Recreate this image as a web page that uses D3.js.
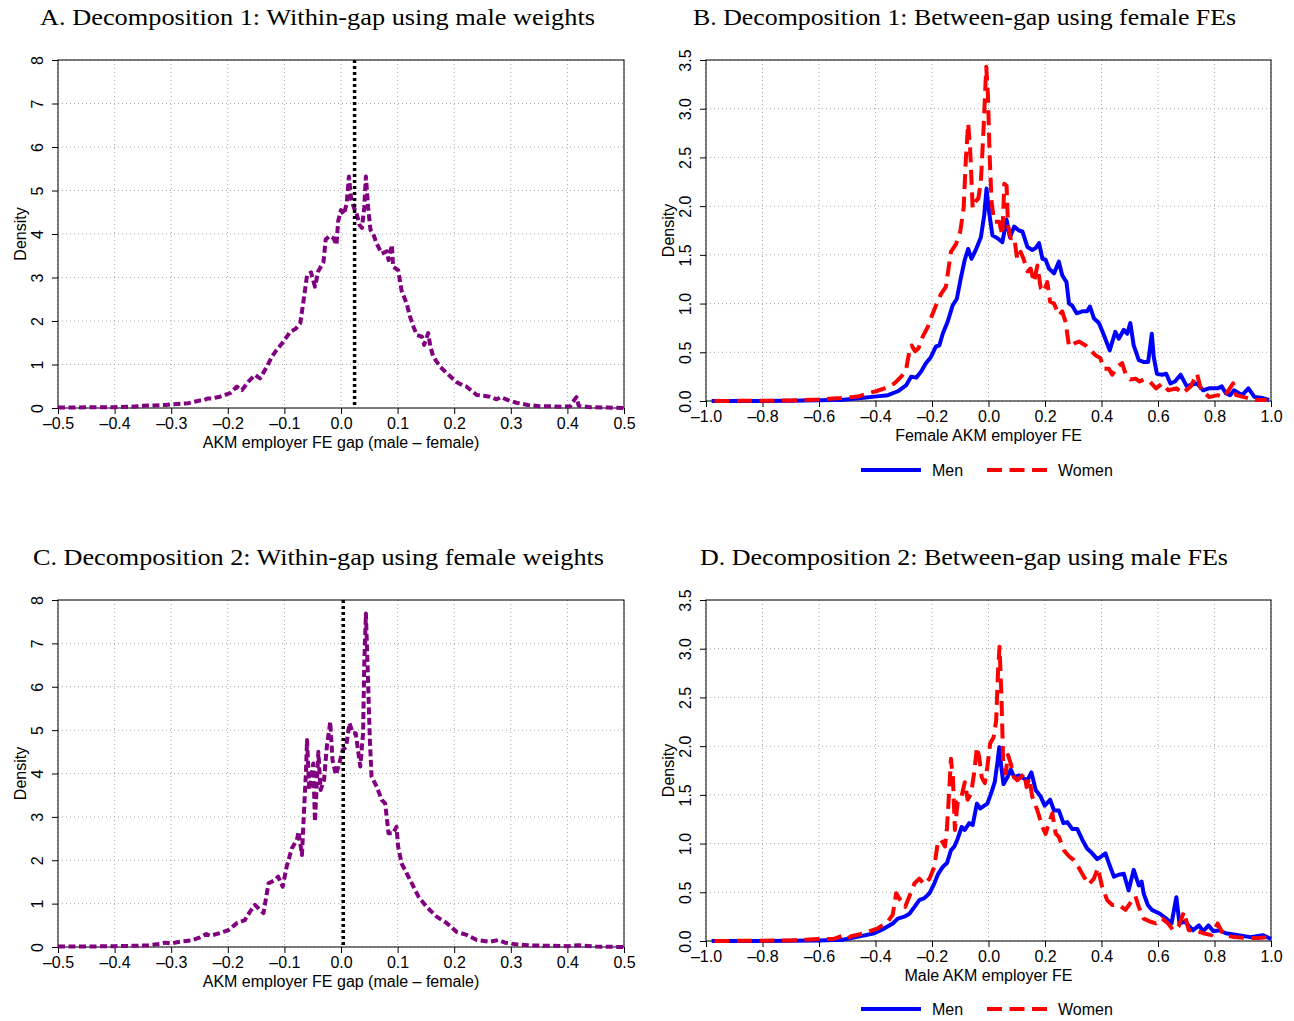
<!DOCTYPE html>
<meta charset="utf-8">
<script src="https://d3js.org/d3.v7.min.js"></script>
<style>
  body { margin: 0; background: #fff; }
  text { font-family: "Liberation Sans", Arial, sans-serif; }
  .title { font-family: "Liberation Serif", "Times New Roman", serif; }
</style>
<div id="chart"></div>
<script>

// ---- data ----

// tick labels
var gapTicks  = [-0.5, -0.4, -0.3, -0.2, -0.1, 0.0, 0.1, 0.2, 0.3, 0.4, 0.5]
var feTicks   = [-1.0, -0.8, -0.6, -0.4, -0.2, 0.0, 0.2, 0.4, 0.6, 0.8, 1.0]
var gapDensTicks = [0, 1, 2, 3, 4, 5, 6, 7, 8]
var feDensTicks  = [0, 0.5, 1.0, 1.5, 2.0, 2.5, 3.0, 3.5]

// mean gap marked by the dotted vertical line
var meanGapA = 0.024
var meanGapC = 0.004

// Panel A: within-gap using male weights
var gapA_x = [-0.50,-0.47,-0.44,-0.40,-0.37,-0.35,-0.33,-0.31,-0.29,-0.27,-0.26,-0.25,-0.243,-0.235,-0.228,-0.214,-0.205,-0.196,-0.184,-0.175,
  -0.164,-0.152,-0.143,-0.131,-0.122,-0.114,-0.102,-0.09,-0.08,-0.072,-0.066,-0.06,-0.053,-0.046,-0.04,-0.031,-0.027,-0.02,-0.013,-0.008,
  -0.005,0.0,0.005,0.01,0.014,0.018,0.023,0.028,0.033,0.037,0.041,0.044,0.048,0.052,0.057,0.063,0.072,0.081,0.084,0.09,
  0.092,0.101,0.107,0.116,0.122,0.128,0.134,0.143,0.147,0.154,0.158,0.163,0.175,0.187,0.204,0.215,0.222,0.24,0.252,0.263,
  0.275,0.283,0.295,0.31,0.33,0.35,0.37,0.39,0.405,0.412,0.416,0.42,0.44,0.47,0.50]
var gapA_d = [0.01,0.01,0.02,0.02,0.03,0.05,0.06,0.07,0.09,0.11,0.14,0.17,0.18,0.22,0.22,0.26,0.30,0.34,0.49,0.41,
  0.60,0.76,0.68,0.95,1.18,1.33,1.52,1.75,1.82,1.95,2.48,3.05,3.12,2.79,3.15,3.35,3.88,3.95,3.90,3.75,
  4.30,4.55,4.45,4.70,5.32,4.80,4.60,4.45,4.20,4.14,4.60,5.32,4.60,4.10,4.00,3.78,3.55,3.60,3.40,3.75,
  3.25,3.17,2.70,2.40,2.10,1.87,1.68,1.64,1.45,1.72,1.41,1.18,0.95,0.80,0.60,0.52,0.49,0.30,0.28,0.26,
  0.20,0.25,0.18,0.12,0.07,0.04,0.04,0.03,0.04,0.18,0.25,0.05,0.02,0.01,0.00]

// Panel C: within-gap using female weights
var gapC_x = [-0.50,-0.45,-0.40,-0.36,-0.34,-0.32,-0.31,-0.30,-0.29,-0.28,-0.265,-0.249,-0.238,-0.231,-0.214,-0.199,-0.184,-0.17,-0.161,-0.152,
  -0.137,-0.128,-0.117,-0.111,-0.103,-0.096,-0.087,-0.078,-0.075,-0.069,-0.065,-0.062,-0.06,-0.056,-0.049,-0.046,-0.04,-0.036,-0.03,-0.025,
  -0.019,-0.015,-0.009,-0.003,0.003,0.009,0.015,0.021,0.026,0.034,0.039,0.041,0.044,0.047,0.051,0.054,0.063,0.072,0.078,0.084,
  0.092,0.098,0.101,0.107,0.116,0.128,0.137,0.151,0.169,0.187,0.204,0.222,0.24,0.263,0.278,0.29,0.31,0.33,0.36,0.40,
  0.42,0.45,0.50]
var gapC_d = [0.01,0.01,0.02,0.03,0.04,0.07,0.10,0.08,0.11,0.13,0.15,0.22,0.30,0.26,0.32,0.39,0.55,0.62,0.81,0.97,
  0.78,1.47,1.54,1.62,1.39,1.85,2.27,2.47,2.66,2.12,3.23,4.00,4.77,3.62,4.23,2.89,4.50,3.62,3.85,4.62,
  5.19,4.31,3.97,4.23,4.54,4.62,5.16,4.93,4.93,4.16,4.93,6.46,7.69,6.46,4.77,3.93,3.70,3.39,3.31,2.62,
  2.62,2.77,2.31,1.93,1.70,1.39,1.16,0.93,0.70,0.55,0.35,0.28,0.16,0.12,0.16,0.10,0.06,0.04,0.03,0.02,
  0.04,0.01,0.00]

// Panel B: female AKM employer FE
var feB_menX = [-0.98,-0.8,-0.7,-0.6,-0.55,-0.521,-0.45,-0.404,-0.356,-0.321,-0.292,-0.274,-0.256,-0.239,-0.221,-0.204,-0.186,-0.174,-0.162,-0.145,
  -0.127,-0.112,-0.098,-0.084,-0.072,-0.06,-0.045,-0.027,-0.015,-0.007,0.002,0.014,0.032,0.049,0.064,0.076,0.091,0.108,0.12,0.138,
  0.155,0.167,0.179,0.191,0.202,0.214,0.232,0.249,0.261,0.276,0.285,0.296,0.312,0.332,0.349,0.359,0.373,0.391,0.408,0.429,
  0.449,0.461,0.479,0.491,0.502,0.514,0.532,0.55,0.565,0.572,0.578,0.585,0.596,0.615,0.629,0.644,0.66,0.68,0.702,0.72,
  0.738,0.76,0.78,0.811,0.826,0.84,0.855,0.869,0.898,0.92,0.942,0.971,0.993]
var feB_menD = [0.0,0.0,0.003,0.008,0.01,0.01,0.03,0.045,0.06,0.10,0.16,0.25,0.24,0.30,0.39,0.45,0.56,0.57,0.69,0.81,
  0.98,1.05,1.26,1.45,1.56,1.46,1.55,1.68,1.91,2.18,1.94,1.70,1.67,1.63,1.86,1.68,1.79,1.75,1.74,1.58,
  1.55,1.57,1.62,1.46,1.45,1.36,1.31,1.43,1.29,1.22,1.00,0.98,0.90,0.92,0.92,0.97,0.85,0.80,0.68,0.52,
  0.71,0.64,0.73,0.69,0.80,0.57,0.42,0.40,0.40,0.55,0.69,0.45,0.28,0.27,0.28,0.18,0.20,0.27,0.15,0.17,
  0.18,0.11,0.13,0.13,0.15,0.08,0.06,0.11,0.06,0.13,0.04,0.03,0.01]
var feB_womenX = [-0.97,-0.8,-0.7,-0.6,-0.55,-0.521,-0.462,-0.427,-0.398,-0.368,-0.333,-0.309,-0.292,-0.28,-0.272,-0.26,-0.248,-0.233,-0.215,-0.204,
  -0.186,-0.168,-0.151,-0.133,-0.115,-0.1,-0.088,-0.08,-0.072,-0.065,-0.056,-0.048,-0.036,-0.027,-0.018,-0.008,-0.002,0.004,0.011,0.02,
  0.038,0.049,0.056,0.064,0.069,0.079,0.091,0.102,0.114,0.124,0.138,0.149,0.161,0.173,0.185,0.196,0.208,0.218,0.232,0.249,
  0.261,0.273,0.285,0.302,0.32,0.344,0.361,0.379,0.396,0.408,0.426,0.438,0.455,0.473,0.485,0.502,0.52,0.535,0.549,0.571,
  0.593,0.615,0.636,0.665,0.687,0.716,0.738,0.753,0.782,0.811,0.833,0.866,0.876,0.905,0.942,0.985]
var feB_womenD = [0.0,0.003,0.005,0.015,0.025,0.03,0.045,0.08,0.10,0.13,0.18,0.25,0.32,0.51,0.57,0.51,0.54,0.66,0.76,0.85,
  0.98,1.10,1.17,1.53,1.61,1.74,1.98,2.49,2.85,2.59,1.98,2.04,2.08,2.25,2.76,3.43,3.14,2.52,2.04,1.84,
  1.84,1.70,2.23,2.21,1.80,1.67,1.68,1.45,1.53,1.46,1.33,1.36,1.22,1.39,1.16,1.12,1.22,1.02,1.00,0.88,
  0.92,0.81,0.56,0.59,0.61,0.57,0.52,0.47,0.44,0.33,0.33,0.27,0.35,0.39,0.28,0.22,0.23,0.20,0.22,0.20,
  0.13,0.18,0.11,0.13,0.08,0.15,0.28,0.11,0.04,0.06,0.04,0.18,0.06,0.04,0.01,0.01]

// Panel D: male AKM employer FE
var feD_menX = [-0.98,-0.8,-0.7,-0.6,-0.55,-0.521,-0.451,-0.404,-0.368,-0.339,-0.321,-0.298,-0.28,-0.262,-0.245,-0.227,-0.209,-0.192,-0.178,-0.162,
  -0.147,-0.133,-0.121,-0.109,-0.095,-0.084,-0.068,-0.056,-0.041,-0.029,-0.015,-0.004,0.011,0.022,0.032,0.038,0.044,0.053,0.067,0.079,
  0.091,0.108,0.124,0.138,0.152,0.167,0.185,0.199,0.218,0.232,0.249,0.265,0.279,0.296,0.314,0.332,0.349,0.367,0.385,0.396,
  0.414,0.426,0.444,0.461,0.479,0.496,0.514,0.532,0.542,0.549,0.564,0.578,0.607,0.629,0.648,0.665,0.676,0.695,0.724,0.745,
  0.76,0.779,0.796,0.818,0.84,0.884,0.927,0.971,1.0]
var feD_menD = [0.0,0.0,0.003,0.006,0.01,0.01,0.05,0.08,0.13,0.18,0.23,0.25,0.28,0.35,0.42,0.44,0.49,0.59,0.69,0.76,
  0.80,0.93,0.97,1.05,1.17,1.14,1.21,1.19,1.41,1.36,1.39,1.41,1.53,1.63,1.84,1.99,1.82,1.61,1.68,1.76,
  1.68,1.70,1.67,1.65,1.73,1.55,1.48,1.39,1.45,1.34,1.34,1.21,1.22,1.15,1.15,1.04,0.95,0.90,0.84,0.86,
  0.90,0.80,0.66,0.68,0.69,0.52,0.73,0.57,0.61,0.49,0.37,0.32,0.28,0.23,0.18,0.45,0.18,0.20,0.11,0.16,
  0.10,0.16,0.10,0.11,0.08,0.06,0.04,0.06,0.02]
var feD_womenX = [-0.97,-0.8,-0.7,-0.6,-0.55,-0.52,-0.5,-0.486,-0.439,-0.392,-0.356,-0.339,-0.327,-0.312,-0.295,-0.28,-0.262,-0.245,-0.227,-0.209,
  -0.192,-0.18,-0.168,-0.154,-0.147,-0.139,-0.133,-0.126,-0.119,-0.109,-0.098,-0.084,-0.074,-0.062,-0.051,-0.041,-0.033,-0.024,-0.013,-0.004,
  0.006,0.018,0.027,0.034,0.039,0.046,0.052,0.061,0.069,0.079,0.091,0.102,0.114,0.126,0.135,0.144,0.155,0.173,0.191,0.202,
  0.214,0.226,0.238,0.249,0.267,0.285,0.302,0.32,0.338,0.355,0.373,0.387,0.402,0.42,0.438,0.461,0.485,0.502,0.52,0.532,
  0.549,0.571,0.593,0.615,0.636,0.654,0.673,0.692,0.709,0.731,0.76,0.789,0.811,0.833,0.869,0.913,0.956,0.985,1.0]
var feD_womenD = [0.0,0.003,0.006,0.02,0.02,0.05,0.02,0.05,0.08,0.13,0.20,0.27,0.49,0.42,0.35,0.46,0.59,0.64,0.58,0.64,
  0.76,1.00,1.04,0.97,1.16,1.55,1.87,1.68,1.14,1.43,1.45,1.63,1.45,1.51,1.72,1.99,1.89,1.68,1.62,1.79,
  2.03,2.09,2.26,2.78,3.02,2.50,1.82,1.72,1.91,1.82,1.68,1.65,1.68,1.72,1.58,1.67,1.48,1.34,1.17,1.10,
  1.21,1.31,1.10,1.07,0.93,0.87,0.83,0.75,0.66,0.58,0.64,0.75,0.56,0.42,0.37,0.37,0.32,0.39,0.46,0.35,
  0.23,0.20,0.18,0.23,0.18,0.11,0.15,0.30,0.11,0.11,0.08,0.06,0.18,0.06,0.04,0.03,0.03,0.04,0.03]

// ---- drawing ----
var width = 1294, height = 1021

var svg = d3.select("#chart")
  .append("svg")
  .attr("width", width)
  .attr("height", height)

function zip(xs, ys) {
  return xs.map(function(x, i) { return {x: x, y: ys[i]} })
}

function fmt(v, digits) {
  var s = Math.abs(v).toFixed(digits)
  return (v < 0 ? "\u2013" : "") + s
}

function drawPanel(p) {
  var x = d3.scaleLinear().domain(p.xDomain).range([p.left, p.right])
  var y = d3.scaleLinear().domain(p.yDomain).range([p.bottom, p.top])
  var g = svg.append("g")

  // dotted grid
  g.selectAll(".vgrid").data(p.xTicks).enter().append("line")
    .attr("x1", function(d) { return x(d) }).attr("x2", function(d) { return x(d) })
    .attr("y1", p.top).attr("y2", p.bottom)
    .attr("stroke", "#a8a8a8").attr("stroke-width", 1).attr("stroke-dasharray", "1,3")
  g.selectAll(".hgrid").data(p.yTicks).enter().append("line")
    .attr("x1", p.left).attr("x2", p.right)
    .attr("y1", function(d) { return y(d) }).attr("y2", function(d) { return y(d) })
    .attr("stroke", "#a8a8a8").attr("stroke-width", 1).attr("stroke-dasharray", "1,3")

  // axes with outward ticks
  var xAxis = g.append("g").attr("transform", "translate(0," + p.bottom + ")")
    .call(d3.axisBottom(x).tickValues(p.xTicks).tickSize(6).tickFormat(function(d) { return fmt(d, 1) }))
  xAxis.select(".domain").remove()
  xAxis.selectAll("text").attr("font-size", "16px").attr("dy", null).attr("y", 21)
    .style("font-family", "Liberation Sans, Arial, sans-serif")

  var yAxis = g.append("g").attr("transform", "translate(" + p.left + ",0)")
    .call(d3.axisLeft(y).tickValues(p.yTicks).tickSize(6).tickFormat(function(d) { return fmt(d, p.yDigits) }))
  yAxis.select(".domain").remove()
  yAxis.selectAll("text")
    .attr("x", null).attr("dy", null)
    .attr("text-anchor", "middle")
    .attr("font-size", "16px")
    .style("font-family", "Liberation Sans, Arial, sans-serif")
    .attr("transform", "translate(-15,0) rotate(-90)")

  // box
  g.append("rect")
    .attr("x", p.left).attr("y", p.top)
    .attr("width", p.right - p.left).attr("height", p.bottom - p.top)
    .attr("fill", "none").attr("stroke", "#000").attr("stroke-width", 1)

  // lines
  var line = d3.line().x(function(d) { return x(d.x) }).y(function(d) { return y(d.y) })
  p.series.forEach(function(s) {
    g.append("path")
      .datum(zip(s.xs, s.ys))
      .attr("d", line)
      .attr("fill", "none")
      .attr("stroke", s.color)
      .attr("stroke-width", s.width)
      .attr("stroke-dasharray", s.dash)
      .attr("stroke-linejoin", "round")
  })

  // mean line
  if (p.vline != null) {
    g.append("line")
      .attr("x1", x(p.vline)).attr("x2", x(p.vline))
      .attr("y1", p.top).attr("y2", p.bottom)
      .attr("stroke", "#000").attr("stroke-width", 3.5).attr("stroke-dasharray", "3,3")
  }

  // labels
  g.append("text")
    .attr("x", (p.left + p.right) / 2).attr("y", p.bottom + 40)
    .attr("text-anchor", "middle").attr("font-size", "16px")
    .text(p.xLabel)
  g.append("text")
    .attr("transform", "translate(" + (p.left - 32) + "," + ((p.top + p.bottom) / 2) + ") rotate(-90)")
    .attr("text-anchor", "middle").attr("font-size", "16px")
    .text("Density")

  svg.append("text")
    .attr("class", "title")
    .attr("x", p.titleX).attr("y", p.titleY)
    .attr("font-size", "24px")
    .attr("textLength", p.titleW).attr("lengthAdjust", "spacingAndGlyphs")
    .text(p.title)

  // legend
  if (p.legendY) {
    var lg = svg.append("g")
    lg.append("line").attr("x1", 861).attr("x2", 921).attr("y1", p.legendY).attr("y2", p.legendY)
      .attr("stroke", "blue").attr("stroke-width", 4)
    lg.append("text").attr("x", 932).attr("y", p.legendY + 6).attr("font-size", "16px").text("Men")
    lg.append("line").attr("x1", 987).attr("x2", 1047).attr("y1", p.legendY).attr("y2", p.legendY)
      .attr("stroke", "red").attr("stroke-width", 4).attr("stroke-dasharray", "15,7.5")
    lg.append("text").attr("x", 1058).attr("y", p.legendY + 6).attr("font-size", "16px").text("Women")
  }
}

drawPanel({
  left: 58, right: 624, top: 60, bottom: 408,
  xDomain: [-0.5, 0.5], yDomain: [0, 8], xTicks: gapTicks, yTicks: gapDensTicks, yDigits: 0,
  xLabel: "AKM employer FE gap (male \u2013 female)",
  title: "A. Decomposition 1: Within-gap using male weights", titleX: 40, titleY: 25, titleW: 555,
  vline: meanGapA,
  series: [{xs: gapA_x, ys: gapA_d, color: "#800080", width: 4, dash: "7,3.5"}]
})

drawPanel({
  left: 706, right: 1271, top: 60, bottom: 401,
  xDomain: [-1, 1], yDomain: [0, 3.5], xTicks: feTicks, yTicks: feDensTicks, yDigits: 1,
  xLabel: "Female AKM employer FE",
  title: "B. Decomposition 1: Between-gap using female FEs", titleX: 693, titleY: 25, titleW: 543,
  legendY: 470,
  series: [
    {xs: feB_menX, ys: feB_menD, color: "blue", width: 4, dash: null},
    {xs: feB_womenX, ys: feB_womenD, color: "red", width: 4, dash: "15,7.5"}
  ]
})

drawPanel({
  left: 58, right: 624, top: 600, bottom: 947,
  xDomain: [-0.5, 0.5], yDomain: [0, 8], xTicks: gapTicks, yTicks: gapDensTicks, yDigits: 0,
  xLabel: "AKM employer FE gap (male \u2013 female)",
  title: "C. Decomposition 2: Within-gap using female weights", titleX: 33, titleY: 565, titleW: 571,
  vline: meanGapC,
  series: [{xs: gapC_x, ys: gapC_d, color: "#800080", width: 4, dash: "7,3.5"}]
})

drawPanel({
  left: 706, right: 1271, top: 600, bottom: 941,
  xDomain: [-1, 1], yDomain: [0, 3.5], xTicks: feTicks, yTicks: feDensTicks, yDigits: 1,
  xLabel: "Male AKM employer FE",
  title: "D. Decomposition 2: Between-gap using male FEs", titleX: 700, titleY: 565, titleW: 528,
  legendY: 1009,
  series: [
    {xs: feD_menX, ys: feD_menD, color: "blue", width: 4, dash: null},
    {xs: feD_womenX, ys: feD_womenD, color: "red", width: 4, dash: "15,7.5"}
  ]
})

</script>
